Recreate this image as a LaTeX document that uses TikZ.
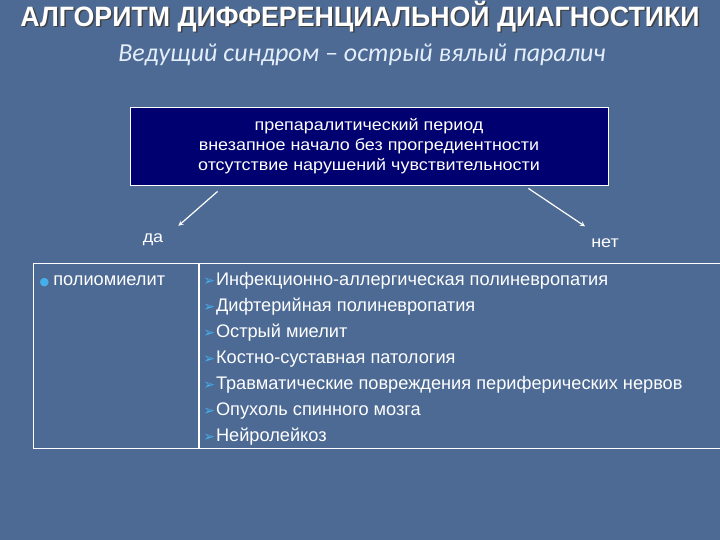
\documentclass[tikz,border=0pt]{standalone}
\usepackage{fontspec}
\setmainfont{Liberation Sans}
\newfontfamily\titlefont[FakeStretch=0.955]{Liberation Sans}
\newfontfamily\boxfont[FakeStretch=1.1]{Liberation Sans}
\newfontfamily\subfont{Carlito}
\newfontfamily\symfont{DejaVu Sans}
\usetikzlibrary{matrix}
\usetikzlibrary{shapes.geometric, arrows}
\definecolor{slide}{RGB}{76,106,148}
\definecolor{navy}{RGB}{0,0,112}
\definecolor{bulletblue}{RGB}{70,175,235}
\definecolor{paleblue}{RGB}{228,238,250}
\tikzstyle{arrow} = [line width=1.2pt,->,>=stealth,white]
\newcommand{\dotitem}{\hspace{2pt}{\symfont\color{bulletblue}\fontsize{11}{11}\selectfont ●}\hspace{4pt}}
\newcommand{\arritem}{{\symfont\color{bulletblue}\fontsize{14}{14}\selectfont ➢}\hspace{1pt}}
\newcommand{\titletext}{\titlefont\bfseries\fontsize{28}{30}\selectfont АЛГОРИТМ ДИФФЕРЕНЦИАЛЬНОЙ ДИАГНОСТИКИ}

\begin{document}
\begin{tikzpicture}[x=1pt,y=-1pt,every node/.style={text=white,inner sep=0pt}]
	\path[use as bounding box, fill=slide] (0,0) rectangle (720,540);
	% title
	\node[text=black!75] (titleshadow) at (361.5,18) {\titletext};
	\node (title) at (360,16.5) {\titletext};
	\node[text=paleblue] (subtitle) at (362,55)
		{\subfont\itshape\fontsize{26}{30}\selectfont Ведущий синдром – острый вялый паралич};
	% decision box
	\node[draw=white, line width=0.8pt, fill=navy, minimum width=478pt, minimum height=78pt,
		align=center, font=\boxfont\fontsize{16.3}{20}\selectfont] (stage) at (369,146)
		{препаралитический период\\
		 внезапное начало без прогредиентности\\
		 отсутствие нарушений чувствительности};
	\node[font=\boxfont\fontsize{16.3}{18}\selectfont] (yes) at (153,240) {да};
	\node[font=\boxfont\fontsize{16.3}{18}\selectfont] (no) at (605,243) {нет};
	\draw[arrow] ([xshift=88pt,yshift=-6pt]stage.south west) -- ([xshift=15pt,yshift=8pt]yes.north east);
	\draw[arrow] ([xshift=-80pt,yshift=-3pt]stage.south east) -- ([xshift=-20pt,yshift=12pt]no.north);
	% table of diagnoses
	\matrix[matrix of nodes,
	nodes={draw=white, line width=1pt, inner sep=4pt,
		font=\fontsize{18.2}{26}\selectfont},
	column sep=-\pgflinewidth,
	anchor=north west]
	(M) at (33,263)
	{
		\parbox[c][177pt][t]{157pt}{\strut\dotitem полиомиелит}   &
		\parbox[c][177pt][t]{514pt}{\strut\arritem Инфекционно-аллергическая полиневропатия\\
			\arritem Дифтерийная полиневропатия\\
			\arritem Острый миелит\\
			\arritem Костно-суставная патология\\
			\arritem Травматические повреждения периферических нервов\\
			\arritem Опухоль спинного мозга\\
			\arritem Нейролейкоз}  \\
	};
\end{tikzpicture}
\end{document}
